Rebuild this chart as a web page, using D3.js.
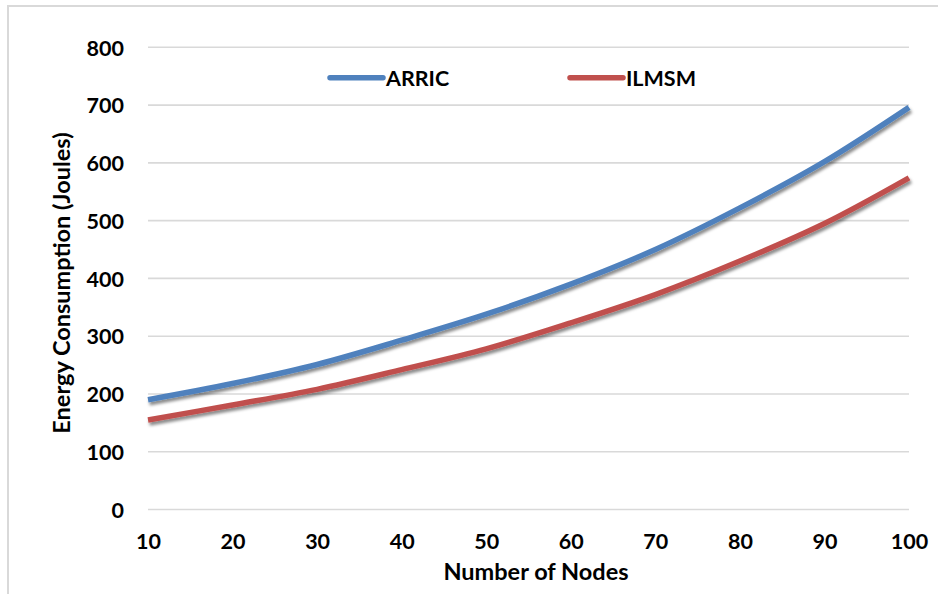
<!DOCTYPE html>
<html>
<head>
<meta charset="utf-8">
<script src="https://cdn.jsdelivr.net/npm/d3@7"></script>
<style>
  html, body { margin: 0; padding: 0; background: #fff; }
  svg { display: block; }
  text { font-family: Lato, "Open Sans", sans-serif; font-weight: bold; fill: #000; }
</style>
</head>
<body>
<svg id="chart" width="938" height="594"></svg>
<script>
const nodes = [10, 20, 30, 40, 50, 60, 70, 80, 90, 100];
const arric = [190, 218, 251, 293, 338, 390, 450, 522, 602, 696];
const ilmsm = [155, 181, 208, 242, 278, 323, 372, 430, 495, 574];
const yTicks = [0, 100, 200, 300, 400, 500, 600, 700, 800];
const seriesNames = ["ARRIC", "ILMSM"];
const seriesColors = ["#4F81BD", "#C0504D"];
const xTitle = "Number of Nodes";
const yTitle = "Energy Consumption (Joules)";

(function () {
const svg = d3.select("#chart");
const W = 938, H = 594;
const mLeft = 148, mRight = 909, mTop = 47.3, mBottom = 509.5;

const defs = svg.append("defs");
const f = defs.append("filter").attr("id", "shadow")
  .attr("x", "-10%").attr("y", "-10%").attr("width", "120%").attr("height", "130%");
f.append("feDropShadow").attr("dx", 1.5).attr("dy", 3).attr("stdDeviation", 1.8)
  .attr("flood-color", "#000").attr("flood-opacity", 0.45);

// frame
svg.append("rect").attr("x", 8).attr("y", 6).attr("width", W + 20).attr("height", H + 20)
  .attr("fill", "none").attr("stroke", "#d9d9d9").attr("stroke-width", 2);

const x = d3.scaleLinear().domain([nodes[0], nodes[nodes.length - 1]]).range([mLeft, mRight]);
const y = d3.scaleLinear().domain([0, 800]).range([mBottom, mTop]);

// gridlines
svg.append("g").selectAll("line").data(yTicks).join("line")
  .attr("x1", mLeft).attr("x2", mRight)
  .attr("y1", d => y(d)).attr("y2", d => y(d))
  .attr("stroke", "#d9d9d9").attr("stroke-width", 1.6);

// y axis labels
const yAxis = d3.axisLeft(y).tickValues(yTicks).tickSize(0).tickPadding(0);
const gy = svg.append("g").attr("transform", "translate(124,0)").call(yAxis);
gy.select(".domain").remove();
gy.selectAll("text").attr("font-size", 21.5).attr("font-family", "Lato, sans-serif")
  .attr("font-weight", "bold").attr("fill", "#000").attr("dy", "0.36em");

// x axis labels
const xAxis = d3.axisBottom(x).tickValues(nodes).tickSize(0).tickPadding(0);
const gx = svg.append("g").attr("transform", "translate(0,534)").call(xAxis);
gx.select(".domain").remove();
gx.selectAll("text").attr("font-size", 21.5).attr("font-family", "Lato, sans-serif")
  .attr("font-weight", "bold").attr("fill", "#000").attr("dy", "0.72em");

// lines
const line = d3.line().x((d, i) => x(nodes[i])).y(d => y(d)).curve(d3.curveCatmullRom.alpha(0.5));
[arric, ilmsm].forEach((s, k) => {
  svg.append("path").datum(s).attr("d", line)
    .attr("fill", "none").attr("stroke", seriesColors[k]).attr("stroke-width", 5.5)
    .attr("stroke-linecap", "butt").attr("filter", "url(#shadow)");
});

// legend
const legX = [330, 570];
seriesNames.forEach((n, k) => {
  svg.append("line").attr("x1", legX[k]).attr("x2", legX[k] + 53)
    .attr("y1", 77.7).attr("y2", 77.7)
    .attr("stroke", seriesColors[k]).attr("stroke-width", 5.5).attr("stroke-linecap", "round");
  svg.append("text").attr("x", legX[k] + 56).attr("y", 85.5)
    .attr("font-size", 21.5).text(n);
});

// axis titles
svg.append("text").attr("x", 536).attr("y", 580)
  .attr("text-anchor", "middle").attr("font-size", 23.5).text(xTitle);
svg.append("text").attr("transform", "translate(70,283) rotate(-90)")
  .attr("text-anchor", "middle").attr("font-size", 23.5).text(yTitle);
})();
</script>
</body>
</html>
